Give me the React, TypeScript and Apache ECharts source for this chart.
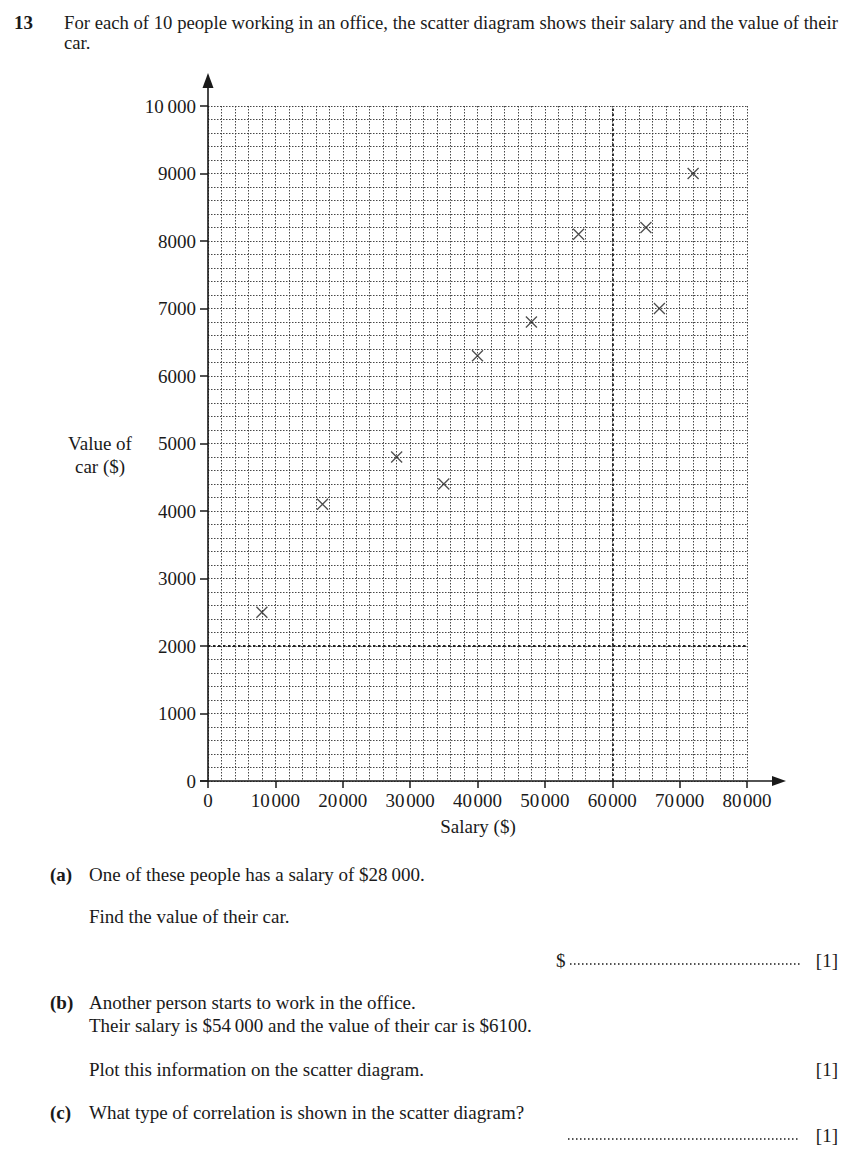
import { useEffect, useRef } from "react";
import * as echarts from "echarts";

const salary = [8000, 17000, 28000, 35000, 40000, 48000, 55000, 65000, 67000, 72000];
const carValue = [2500, 4100, 4800, 4400, 6300, 6800, 8100, 8200, 7000, 9000];

const xTickValues = [0, 10000, 20000, 30000, 40000, 50000, 60000, 70000, 80000];
const xTickLabels = ["0", "10\u200A000", "20\u200A000", "30\u200A000", "40\u200A000", "50\u200A000", "60\u200A000", "70\u200A000", "80\u200A000"];
const yTickValues = [0, 1000, 2000, 3000, 4000, 5000, 6000, 7000, 8000, 9000, 10000];
const yTickLabels = ["0", "1000", "2000", "3000", "4000", "5000", "6000", "7000", "8000", "9000", "10\u2009000"];

const emphasisX = [60000];
const emphasisY = [2000];

const FONT = "'Liberation Serif', 'Times New Roman', serif";
const INK = "#1a1a1a";

const GL = 208, GT = 106, GW = 539, GH = 675;

function txt(x: number, y: number, text: string, opts: any = {}) {
  return {
    type: "text",
    x,
    y,
    z: 100,
    style: {
      text,
      font: `${opts.bold ? "bold " : ""}${opts.size || 19}px ${FONT}`,
      fill: INK,
      textAlign: opts.align || "left",
      textVerticalAlign: "middle",
    },
  };
}

function dots(x1: number, x2: number, y: number) {
  return {
    type: "line",
    z: 100,
    shape: { x1, y1: y, x2, y2: y },
    style: { stroke: INK, lineWidth: 1.5, lineDash: [1.5, 2.5] },
  };
}

export default function App() {
  const ref = useRef<HTMLDivElement>(null);
  useEffect(() => {
    if (!ref.current) return;
    const chart = echarts.init(ref.current, undefined, { renderer: "svg" });
    const gridLine = { color: "#333", width: 0.9, type: [1.5, 1.5] as any };
    const axisX0 = GL, axisY0 = GT + GH;
    chart.setOption({
      animation: false,
      backgroundColor: "#fff",
      grid: { left: GL, top: GT, width: GW, height: GH, containLabel: false },
      xAxis: {
        type: "value",
        min: 0,
        max: 80000,
        interval: 10000,
        axisLine: { show: false },
        axisTick: { show: true, length: 7, lineStyle: { color: INK, width: 1.5 } },
        axisLabel: {
          margin: 10,
          fontSize: 19,
          fontFamily: FONT,
          color: INK,
          formatter: (v: number) => xTickLabels[xTickValues.indexOf(v)] ?? String(v),
        },
        splitLine: { show: true, lineStyle: gridLine },
        minorTick: { show: false, splitNumber: 5 },
        minorSplitLine: { show: true, lineStyle: gridLine },
      },
      yAxis: {
        type: "value",
        min: 0,
        max: 10000,
        interval: 1000,
        axisLine: { show: false },
        axisTick: { show: true, length: 8, lineStyle: { color: INK, width: 1.5 } },
        axisLabel: {
          margin: 12,
          fontSize: 19,
          fontFamily: FONT,
          color: INK,
          formatter: (v: number) => yTickLabels[yTickValues.indexOf(v)] ?? String(v),
        },
        splitLine: { show: true, lineStyle: gridLine },
        minorTick: { show: false, splitNumber: 5 },
        minorSplitLine: { show: true, lineStyle: gridLine },
      },
      series: [
        {
          type: "scatter",
          data: salary.map((s, i) => [s, carValue[i]]),
          symbol: "path://M0 0L10 10M10 0L0 10",
          symbolSize: 11,
          itemStyle: { color: "none", borderColor: "#222", borderWidth: 1.3 },
          z: 10,
          markLine: {
            silent: true,
            symbol: "none",
            label: { show: false },
            lineStyle: { color: "#222", width: 1.8, type: [2.5, 2.5] },
            data: [
              ...emphasisX.map((v) => ({ xAxis: v })),
              ...emphasisY.map((v) => ({ yAxis: v })),
            ],
          },
        },
      ],
      graphic: [
        { type: "line", z: 100, shape: { x1: axisX0, y1: axisY0, x2: axisX0, y2: 80 }, style: { stroke: INK, lineWidth: 1.6 } },
        { type: "polygon", z: 100, shape: { points: [[axisX0, 73], [axisX0 - 5.5, 88], [axisX0 + 5.5, 88]] }, style: { fill: INK } },
        { type: "line", z: 100, shape: { x1: 200, y1: axisY0, x2: 776, y2: axisY0 }, style: { stroke: INK, lineWidth: 1.6 } },
        { type: "polygon", z: 100, shape: { points: [[786, axisY0], [772, axisY0 - 5], [772, axisY0 + 5]] }, style: { fill: INK } },
        txt(478, 826, "Salary ($)", { align: "center" }),
        txt(100, 443, "Value of", { align: "center" }),
        txt(100, 466, "car ($)", { align: "center" }),
        txt(14, 22, "13", { bold: true }),
        txt(64, 22, "For each of 10 people working in an office, the scatter diagram shows their salary and the value of their", { size: 18.7 }),
        txt(64, 42, "car.", { size: 18.7 }),
        txt(50, 874, "(a)", { bold: true }),
        txt(89, 874, "One of these people has a salary of $28\u2009000."),
        txt(89, 916, "Find the value of their car."),
        txt(556, 960, "$"),
        dots(570, 800, 964),
        txt(838, 960, "[1]", { align: "right" }),
        txt(50, 1002, "(b)", { bold: true }),
        txt(89, 1002, "Another person starts to work in the office."),
        txt(89, 1025, "Their salary is $54\u2009000 and the value of their car is $6100."),
        txt(89, 1069, "Plot this information on the scatter diagram."),
        txt(838, 1069, "[1]", { align: "right" }),
        txt(50, 1112, "(c)", { bold: true }),
        txt(89, 1112, "What type of correlation is shown in the scatter diagram?"),
        dots(568, 800, 1139),
        txt(838, 1135, "[1]", { align: "right" }),
      ],
    });
    return () => chart.dispose();
  }, []);
  return (
    <div
      ref={ref}
      style={{ position: "absolute", left: 0, top: 0, width: 853, height: 1150, background: "#fff" }}
    />
  );
}
